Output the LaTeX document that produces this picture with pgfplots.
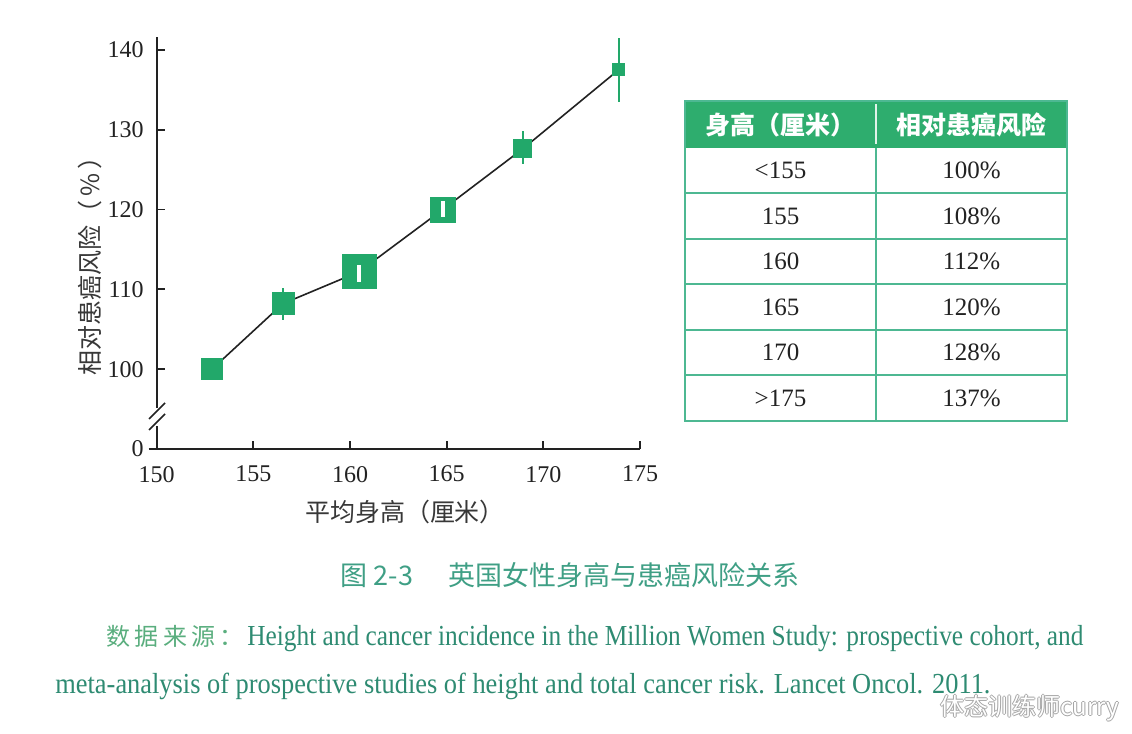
\documentclass[border=0pt]{standalone}
\usepackage{pgfplots}
\pgfplotsset{compat=1.18}
\usepackage{pgfplotstable}
\usepackage{graphicx}
\usepackage{fontspec}
\setmainfont{Liberation Serif}
\newfontfamily\cjk{Noto Sans CJK SC}
\newfontfamily\cjkwide[LetterSpace=18]{Noto Sans CJK SC}

\definecolor{mkgreen}{HTML}{22A86A}
\definecolor{hdrgreen}{HTML}{2EAD6E}
\definecolor{tblline}{HTML}{4DB892}
\definecolor{capgreen}{HTML}{3F9F85}
\definecolor{srcgreen}{HTML}{2E8B72}
\definecolor{srclabel}{HTML}{5AAE7E}
\definecolor{ink}{HTML}{222222}

% height (cm) vs relative risk; y=90 stands for the broken-axis 0
\pgfplotstableread{
x      y     s
152.86 100.0 5.25
156.53 108.2 5.5
160.47 112.2 8.5
164.80 120.0 6.25
168.94 127.6 4.5
173.90 137.5 3.0
}\riskdata

\pgfplotstableread{
x      y     ep   em
156.53 108.2 2.0  2.0
168.94 127.6 2.2  1.85
173.90 137.5 4.0  4.1
}\greenbars

\pgfplotstableread{
x      y     ep   em
160.47 112.2 0.8  1.3
164.80 120.0 1.0  0.9
}\whitebars

\pgfplotsset{
  riskframe/.style={
    at={(78.35pt,142.5pt)}, anchor=south west,
    scale only axis, width=241.65pt, height=206pt,
    xmin=150, xmax=175, ymin=90, ymax=141.6,
    clip=false,
  }
}

\begin{document}
\begin{tikzpicture}
\useasboundingbox (0,0) rectangle (566pt,367pt);
\fill[white] (0,0) rectangle (566pt,367pt);

\begin{axis}[
    riskframe,
    axis lines=left,
    axis line style={-, line width=1pt, ink},
    xtick={150,155,...,175},
    ytick={100,110,120,130,140},
    extra y ticks={90}, extra y tick labels={0},
    extra y tick style={tick align=outside, yticklabel style={xshift=4pt}},
    tick align=inside,
    major tick length=4pt,
    tick style={line width=0.9pt, ink},
    ticklabel style={font=\fontsize{12}{12}\selectfont, text=ink},
    /pgf/number format/assume math mode=true,
    xticklabel style={yshift=-5pt},
    yticklabel style={xshift=-3pt},
]
\addplot[draw=none, mark=none,
    error bars/.cd, y dir=both, y explicit, error mark=none,
    error bar style={draw=mkgreen, line width=1pt}]
    table[x=x, y=y, y error plus=ep, y error minus=em]{\greenbars};

\addplot[ink, line width=0.8pt, mark=none] table[x=x, y=y]{\riskdata};

\addplot[draw=none, scatter, mark=square*,
    scatter/use mapped color={draw=mkgreen, fill=mkgreen},
    visualization depends on={\thisrow{s} \as \msize},
    scatter/@pre marker code/.append style={/tikz/mark size=\msize pt}]
    table[x=x, y=y]{\riskdata};
\end{axis}

% second, hidden axis so the white bars sit on top of the squares
\begin{axis}[riskframe, hide axis]
\addplot[draw=none, mark=none,
    error bars/.cd, y dir=both, y explicit, error mark=none,
    error bar style={draw=white, line width=2pt}]
    table[x=x, y=y, y error plus=ep, y error minus=em]{\whitebars};
\end{axis}

% axis break on the y axis
\fill[white] (74pt,154pt) rectangle (83pt,163pt);
\draw[ink, line width=0.8pt] (74.5pt,152pt) -- (82.5pt,160pt);
\draw[ink, line width=0.8pt] (74.5pt,157.5pt) -- (82.5pt,165.5pt);

% axis titles
\node[font=\cjk\fontsize{12.5}{13}\selectfont, text=ink!90] at (202.5pt,111pt) {平均身高（厘米）};
\node[font=\cjk\fontsize{12.5}{13}\selectfont, text=ink!90, rotate=90] at (45pt,237pt) {相对患癌风险（\,\%\,）};

% table
\fill[hdrgreen] (342.5pt,293pt) rectangle (533.5pt,316.5pt);
\foreach \yy in {270.25,247.5,224.75,202,179.25}
  \draw[tblline, line width=1pt] (342.5pt,\yy pt) -- (533.5pt,\yy pt);
\draw[tblline, line width=1pt] (342.5pt,156.5pt) rectangle (533.5pt,316.5pt);
\draw[tblline, line width=1pt] (438pt,156.5pt) -- (438pt,293pt);
\draw[white!85!hdrgreen, line width=0.8pt] (438pt,295pt) -- (438pt,315pt);
\node[font=\cjk\bfseries\fontsize{12.5}{13}\selectfont, text=white] at (390.25pt,304.75pt) {身高（厘米）};
\node[font=\cjk\bfseries\fontsize{12.5}{13}\selectfont, text=white] at (485.75pt,304.75pt) {相对患癌风险};
\foreach \h/\r [count=\i from 0] in {{<155}/100\%,155/108\%,160/112\%,165/120\%,170/128\%,{>175}/137\%}{
  \node[font=\fontsize{12.5}{13}\selectfont, text=ink] at (390.25pt,{(281.6-22.75*\i)*1pt}) {\h};
  \node[font=\fontsize{12.5}{13}\selectfont, text=ink] at (485.75pt,{(281.6-22.75*\i)*1pt}) {\r};
}

% caption
\node[font=\cjk\fontsize{13.5}{14}\selectfont, text=capgreen] at (285pt,79.5pt) {图 2-3\hspace{1.3em}英国女性身高与患癌风险关系};

% source
\node[anchor=base west, inner sep=0pt, font=\cjkwide\fontsize{12}{13}\selectfont, text=srclabel] at (53pt,44pt) {数据来源：};
\node[anchor=base west, inner sep=0pt, text=srcgreen] at (123.5pt,44pt)
  {\resizebox{418pt}{\height}{\fontsize{14.5}{15}\selectfont Height and cancer incidence in the Million Women Study: prospective cohort, and}};
\node[anchor=base west, inner sep=0pt, text=srcgreen] at (27.5pt,20pt)
  {\resizebox{467.5pt}{\height}{\fontsize{14.5}{15}\selectfont meta-analysis of prospective studies of height and total cancer risk. Lancet Oncol. 2011.}};

% watermark
\foreach \dx/\dy in {0.5/0,-0.5/0,0/0.5,0/-0.5}
  \node[font=\cjk\fontsize{12}{13}\selectfont, text=gray!70] at ({(515+\dx)*1pt},{(13+\dy)*1pt}) {体态训练师curry};
\node[font=\cjk\fontsize{12}{13}\selectfont, text=white] at (515pt,13pt) {体态训练师curry};
\end{tikzpicture}
\end{document}
